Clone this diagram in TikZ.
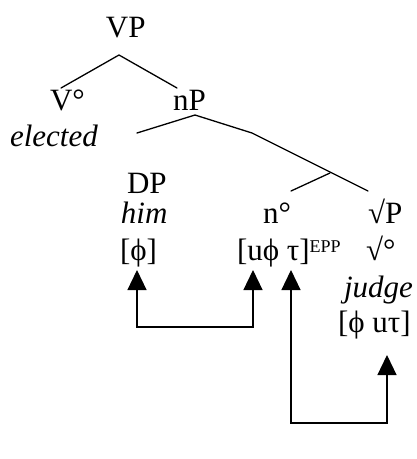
\documentclass[tikz,border=0pt]{standalone}
\usepackage{fontspec}
\setmainfont{Liberation Serif}
\usetikzlibrary{arrows.meta}
\begin{document}
\begin{tikzpicture}[x=1pt,y=-1pt,
  lbl/.style={anchor=base west,inner sep=0pt,outer sep=0pt,font=\fontsize{31}{37}\selectfont},
  ilbl/.style={lbl,font=\fontsize{31}{37}\selectfont\itshape},
  branch/.style={line width=1.3pt,line cap=round,line join=round},
  link/.style={line width=1.2pt,{Triangle[length=20pt,width=19pt]}-{Triangle[length=20pt,width=19pt]}}]
\useasboundingbox (0,0) rectangle (417,459);
% labels
\node[lbl] (vp) at (106,37) {VP};
\node[lbl] (v) at (50,110) {V°};
\node[lbl] (np) at (173,110) {nP};
\node[ilbl] (elected) at (10,146) {elected};
\node[lbl] (dp) at (127,193) {DP};
\node[ilbl] (him) at (121,223) {him};
\node[lbl] (n) at (263,223) {n°};
\node[lbl] (rp) at (368,223) {√P};
\node[lbl] (phi) at (120,260) {[ϕ]};
\node[lbl] (uphi) at (237,260) {[uϕ τ]\raisebox{8pt}{\fontsize{18}{20}\selectfont EPP}};
\node[lbl] (r) at (366,260) {√°};
\node[ilbl] (judge) at (344,297) {judge};
\node[lbl] (phiut) at (338,332) {[ϕ uτ]};
% tree branch points
\coordinate (vptop) at (119,55);
\coordinate (vend) at (61,88);
\coordinate (npend) at (177,88);
\coordinate (nptop) at (195,115);
\coordinate (dpend) at (137,133);
\coordinate (nbar) at (252,133);
\coordinate (rpend) at (368,191);
\coordinate (nsplit) at (330,173);
\coordinate (nend) at (291,191);
\draw[branch] (vend) -- (vptop) -- (npend);
\draw[branch] (dpend) -- (nptop) -- (nbar) -- (rpend);
\draw[branch] (nsplit) -- (nend);
% agreement arrows
\coordinate (a1) at (137,270);
\coordinate (a2) at (253,270);
\coordinate (a3) at (291,270);
\coordinate (a4) at (387,355);
\draw[link] (a1) |- (195,327) -| (a2);
\draw[link] (a3) |- (340,423) -| (a4);
\end{tikzpicture}
\end{document}
